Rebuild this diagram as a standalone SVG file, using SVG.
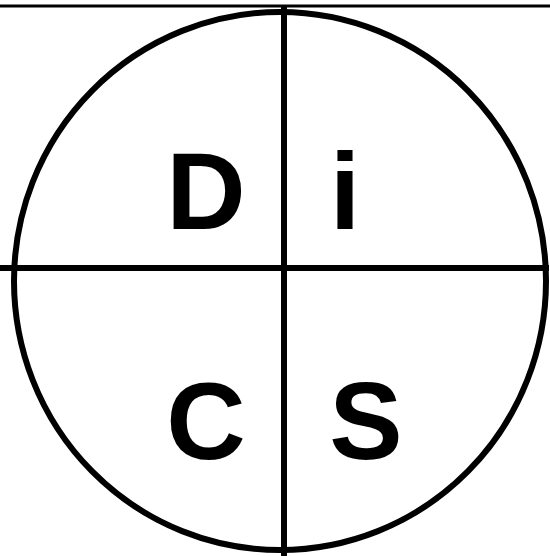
<svg xmlns="http://www.w3.org/2000/svg" width="550" height="556" viewBox="0 0 550 556">
<style>
.ln{stroke:#000;fill:none}
.lt{font-family:"Liberation Sans",Arial,sans-serif;font-weight:bold;font-size:110px;fill:#000;text-anchor:middle}
</style>
<rect width="550" height="556" fill="#fff"/>
<g id="connectors">
<line class="ln" x1="0" y1="6" x2="550" y2="6" stroke-width="3"/>
<ellipse class="ln" cx="280" cy="281" rx="266" ry="269" stroke-width="6"/>
<line class="ln" x1="0" y1="268" x2="549" y2="268" stroke-width="6"/>
<line class="ln" x1="284" y1="7" x2="284" y2="556" stroke-width="6"/>
</g>
<g id="D"><text class="lt" x="206" y="229">D</text></g>
<g id="i"><text class="lt" x="345" y="229">i</text></g>
<g id="C"><text class="lt" x="206" y="459">C</text></g>
<g id="S"><text class="lt" x="366" y="459">S</text></g>
</svg>
